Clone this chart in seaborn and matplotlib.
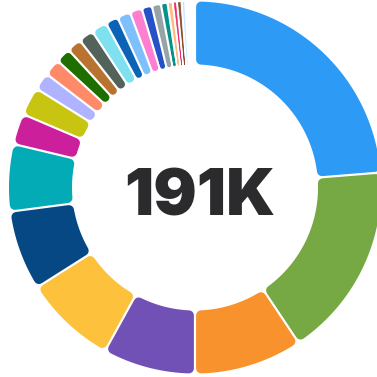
import numpy as np
import matplotlib
matplotlib.use("Agg")
import matplotlib.pyplot as plt
import seaborn as sns
from matplotlib.path import Path
from matplotlib.patches import PathPatch

# Traffic share by source (thousands of visits)
sources = [f"Source {i + 1}" for i in range(31)]
visits_k = [45.3, 32.3, 17.9, 15.3, 15.3, 13.2, 11.1, 5.1, 4.7, 2.9,
            2.8, 2.5, 2.4, 2.5, 2.6, 2.1, 2.2, 2.0, 1.7, 1.5,
            1.1, 0.85, 0.7, 0.75, 0.6, 0.3, 0.3, 0.3, 0.25, 0.25, 0.2]
colors = ["#2d9af5", "#76a843", "#f8922c", "#7151b5", "#fdc13c", "#054884",
          "#02abb5", "#cc1f9b", "#c8c512", "#b0b3ff", "#ff8a6a", "#1e6e00",
          "#b87330", "#54625c", "#7fe0ef", "#0b63b7", "#7ec0fb", "#fd7fd0",
          "#2652c8", "#96a3a7", "#03918a", "#fdbd80", "#ea2b6b", "#8e4a29",
          "#c7e4ff", "#dfe9f3", "#e6eef5", "#edf2f7", "#f0f4f8", "#f3f6f9",
          "#f5f7fa"]

DPI = 100
R_OUT = 186      # outer radius (px)
R_IN = 123       # inner radius (px)
GAP = 2.2        # white gap between slices (px)
CORNER = 5.0     # corner rounding radius (px)

sns.set_theme(style="white")


def rounded_sector(t1, t2, r_in, r_out, gap, corner):
    """Annular sector with a constant-width gap and rounded corners.

    Returns the inset polygon and the stroke width (px) that grows it back
    to full size with round joins."""
    a1, a2 = np.radians(t1), np.radians(t2)
    span = a2 - a1
    half = gap / 2.0
    hw_in = r_in * np.sin(span / 2) - half
    hw_out = r_out * np.sin(span / 2) - half
    if hw_out <= 0.1:
        return None, 0.0
    rc = min(corner, max(hw_in, 0.0) * 0.95, (r_out - r_in) / 2 * 0.9)
    s = half + rc
    ro, ri = r_out - rc, r_in + rc

    def off(r):
        return np.arcsin(min(s / r, 1.0))

    verts = []
    oa1, oa2 = a1 + off(ro), a2 - off(ro)
    if oa2 <= oa1:
        return None, 0.0
    for a in np.linspace(oa1, oa2, max(3, int(np.degrees(oa2 - oa1) * 2))):
        verts.append((ro * np.cos(a), ro * np.sin(a)))
    ia1, ia2 = a1 + off(ri), a2 - off(ri)
    if ia2 > ia1:
        for a in np.linspace(ia2, ia1, max(3, int(np.degrees(ia2 - ia1) * 2))):
            verts.append((ri * np.cos(a), ri * np.sin(a)))
    else:
        rx = s / np.sin(span / 2)
        am = (a1 + a2) / 2
        verts.append((rx * np.cos(am), rx * np.sin(am)))
    verts.append(verts[0])
    codes = [Path.MOVETO] + [Path.LINETO] * (len(verts) - 2) + [Path.CLOSEPOLY]
    return Path(verts, codes), rc


fig = plt.figure(figsize=(3.77, 3.77), dpi=DPI)
fig.patch.set_facecolor("white")
ax = fig.add_axes([0, 0, 1, 1])

wedges, _ = ax.pie(visits_k, colors=colors, radius=R_OUT, startangle=90,
                   counterclock=False,
                   wedgeprops=dict(width=R_OUT - R_IN, linewidth=0))

# Replace the plain wedges with rounded, gapped sectors
for w, c in zip(wedges, colors):
    w.set_visible(False)
    path, rc = rounded_sector(w.theta1, w.theta2, R_IN, R_OUT, GAP, CORNER)
    if path is None:
        continue
    lw = 2 * rc * 72.0 / DPI
    ax.add_patch(PathPatch(path, facecolor=c, edgecolor=c if rc > 0 else "none",
                           linewidth=lw, joinstyle="round", zorder=2))

total_k = sum(visits_k)
ax.text(5, -27.5, f"{round(total_k)}K", ha="center", va="baseline",
        fontsize=46.5, fontweight="black", family=["Inter", "DejaVu Sans"],
        color="#2b2b2d", zorder=3)

ax.set_xlim(-195, 182)
ax.set_ylim(-189.5, 187.5)
ax.set_aspect("equal")
ax.axis("off")

fig.savefig("out.png", dpi=DPI, facecolor="white")
